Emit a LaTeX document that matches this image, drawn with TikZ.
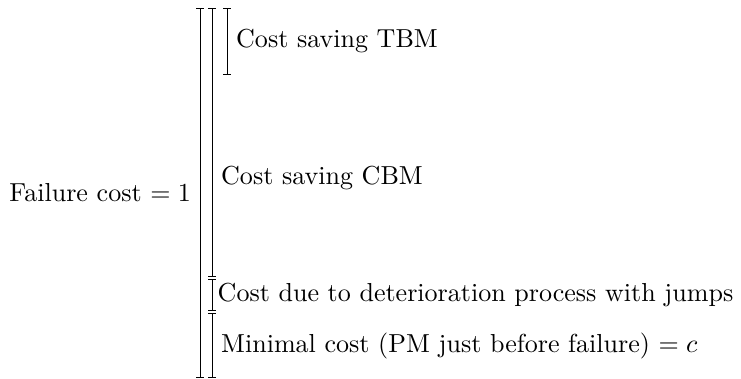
\documentclass[tikz,border=0pt]{standalone}
\usepackage{tikz}
\usetikzlibrary{arrows,arrows.meta,calc,positioning}
\tikzset{span/.style={{Bar[width=2.8pt]}-{Bar[width=2.8pt]}, line width=0.35pt}}
\begin{document}
\begin{tikzpicture}[x=0.0135cm,y=-0.0135cm]
\useasboundingbox (0,0) rectangle (741,379);
% total failure cost
\draw[span] (200,8) coordinate(A) -- (200,378) coordinate(B);
\node[left] (fail) at ($(A)!0.5!(B)$) {Failure cost $=1$};
% cost savings and remaining costs
\draw[span] (212,8) coordinate(C) -- (212,277) coordinate(D);
\draw[span] (212,279) coordinate(E) -- (212,311) coordinate(F);
\draw[span] (212,313) coordinate(G) -- (212,378) coordinate(H);
\draw[span] (227,8) coordinate(I) -- (227,75) coordinate(J);
\node[right] (tbm) at ($(I)!0.5!(J)$) {Cost saving TBM};
\node[right] (cbm) at (212,178) {Cost saving CBM};
\node[right,inner sep=2pt] (jump) at ($(E)!0.5!(F)$) {Cost due to deterioration process with jumps};
\node[right] (min) at ($(G)!0.5!(H)$) {Minimal cost (PM just before failure) $=c$};
\end{tikzpicture}
\end{document}
